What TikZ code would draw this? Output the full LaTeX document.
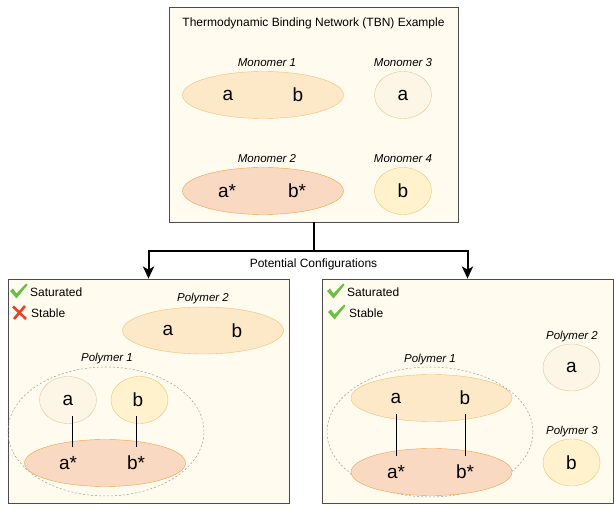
\documentclass[tikz,border=0pt]{standalone}
\usepackage{fontspec}
\setmainfont{Liberation Sans}
\usepackage{tikz}
\usetikzlibrary{shapes.geometric,arrows.meta}

\definecolor{panelbg}{HTML}{FFFCEF}
\definecolor{fillab}{HTML}{FDE8C8}
\definecolor{drawab}{HTML}{F0BF74}
\definecolor{fillst}{HTML}{FAD9C2}
\definecolor{drawst}{HTML}{E8A23E}
\definecolor{filla}{HTML}{FDF5E6}
\definecolor{drawa}{HTML}{E3C79A}
\definecolor{fillb}{HTML}{FFF2CC}
\definecolor{drawb}{HTML}{E6C878}
\definecolor{okgreen}{HTML}{6DBE45}
\definecolor{nored}{HTML}{E8402A}

\begin{document}
\begin{tikzpicture}[x=1pt,y=-1pt]
    \tikzstyle{panel}=[
        draw = black!70,
        line width = 0.8pt,
        fill = panelbg,
        inner sep = 0pt
    ]
    \tikzstyle{ab mono}=[
        ellipse,
        draw = drawab,
        fill = fillab,
        minimum width = 161pt,
        minimum height = 47pt
    ]
    \tikzstyle{star mono}=[
        ellipse,
        draw = drawst,
        fill = fillst,
        minimum width = 161pt,
        minimum height = 47pt
    ]
    \tikzstyle{a mono}=[
        ellipse,
        draw = drawa,
        fill = filla,
        minimum width = 57pt,
        minimum height = 47pt
    ]
    \tikzstyle{b mono}=[
        ellipse,
        draw = drawb,
        fill = fillb,
        minimum width = 57pt,
        minimum height = 47pt
    ]
    \tikzstyle{polymer}=[
        ellipse,
        draw = black!40,
        dash pattern = on 2pt off 2pt,
        line width = 0.5pt
    ]
    \tikzstyle{site}=[
        font = \fontsize{19}{22}\selectfont,
        minimum height = 32pt,
        inner sep = 0pt
    ]
    \tikzstyle{caption}=[
        font = \fontsize{11.5}{13}\selectfont\itshape,
        inner sep = 0pt
    ]
    \tikzstyle{plain}=[
        font = \fontsize{12}{14}\selectfont,
        inner sep = 0pt
    ]
    \tikzstyle{bond}=[
        draw = black,
        line width = 0.6pt
    ]
    \tikzstyle{branch}=[
        draw = black,
        line width = 2pt,
        -{Stealth[length=12pt,width=11pt,inset=3pt]}
    ]

    \useasboundingbox (0,0) rectangle (614,510);

    % top panel: the network
    \node[panel, minimum width=289pt, minimum height=215pt] (tbn) at (313.5,114.5) {};
    \node[plain] (title) at (313.5,23) {Thermodynamic Binding Network (TBN) Example};

    \node[caption] (m1) at (267,63) {Monomer 1};
    \node[caption] (m2) at (267,159) {Monomer 2};
    \node[caption] (m3) at (403,63) {Monomer 3};
    \node[caption] (m4) at (403,159) {Monomer 4};

    \node[ab mono]   (m1e) at (263,95)  {};
    \node[star mono] (m2e) at (263,191) {};
    \node[a mono]    (m3e) at (403,95)  {};
    \node[b mono]    (m4e) at (403,191) {};

    \node[site] (m1a) at (228,95)  {a};
    \node[site] (m1b) at (298,95)  {b};
    \node[site] (m2a) at (227,191) {a*};
    \node[site] (m2b) at (297,191) {b*};
    \node[site] (m3a) at (403,95)  {a};
    \node[site] (m4b) at (403,191) {b};

    % bottom panels
    \node[panel, minimum width=281pt, minimum height=224pt] (cfgA) at (148.5,391) {};
    \node[panel, minimum width=291pt, minimum height=224pt] (cfgB) at (467.5,391) {};

    \coordinate (split) at (313.5,251);
    \path[branch] (tbn.south) -- (split) -| (cfgA.north);
    \path[branch] (split) -| (cfgB.north);
    \node[plain] (potential) at (313.5,264) {Potential Configurations};

    % legend, left
    \fill[okgreen] (10,291) -- (13,288.5) -- (16.5,293.5) -- (26,283.5) -- (27.5,285) -- (16.5,298.5) -- cycle;
    \node[plain, anchor=west] (satA) at (30,292) {Saturated};
    \draw[nored, line width=2.6pt] (13,306.5) -- (26,319);
    \draw[nored, line width=2.6pt] (25,306) -- (14,319);
    \node[plain, anchor=west] (stabA) at (31,313) {Stable};

    % legend, right
    \fill[okgreen] (327,291) -- (330,288.5) -- (333.5,293.5) -- (343,283.5) -- (344.5,285) -- (333.5,298.5) -- cycle;
    \node[plain, anchor=west] (satB) at (347,292) {Saturated};
    \fill[okgreen] (328,312) -- (331,309.5) -- (334.5,314.5) -- (344,304.5) -- (345.5,306) -- (334.5,319.5) -- cycle;
    \node[plain, anchor=west] (stabB) at (349,313) {Stable};

    % left configuration
    \node[caption] (lp2) at (203,299) {Polymer 2};
    \node[ab mono] (lp2e) at (203,330.5) {};
    \node[site] (lp2a) at (168,330.5) {a};
    \node[site] (lp2b) at (237,330.5) {b};

    \node[caption] (lp1) at (107,359) {Polymer 1};
    \node[polymer, minimum width=196pt, minimum height=129pt] (lp1e) at (106,431.5) {};
    \node[a mono]    (lae) at (68,400)  {};
    \node[b mono]    (lbe) at (139.5,400) {};
    \node[star mono] (lse) at (105,463) {};
    \node[site] (la)  at (68,400)  {a};
    \node[site] (lb)  at (138,400) {b};
    \node[site] (las) at (68,463)  {a*};
    \node[site] (lbs) at (136,463) {b*};
    \path[bond] ([xshift=4pt]la.south) -- ([xshift=4pt]las.north);
    \path[bond] ([xshift=-2pt]lb.south) -- ([xshift=-2pt]lb.south |- lbs.north);

    % right configuration
    \node[caption] (rp2) at (572,337) {Polymer 2};
    \node[caption] (rp3) at (572,432) {Polymer 3};
    \node[a mono] (rp2e) at (571.5,367.5) {};
    \node[b mono] (rp3e) at (571.5,462.5) {};
    \node[site] (rp2a) at (571.5,367.5) {a};
    \node[site] (rp3b) at (571.5,462.5) {b};

    \node[caption] (rp1) at (430,360) {Polymer 1};
    \node[polymer, minimum width=206pt, minimum height=130pt] (rp1e) at (430,432) {};
    \node[ab mono]   (rte) at (431.5,398) {};
    \node[star mono] (rse) at (431.5,472) {};
    \node[site] (ra)  at (396,398) {a};
    \node[site] (rb)  at (465,398) {b};
    \node[site] (ras) at (396,472) {a*};
    \node[site] (rbs) at (465,472) {b*};
    \path[bond] (ra.south) -- (ras.north);
    \path[bond] (rb.south) -- (rbs.north);

\end{tikzpicture}
\end{document}
